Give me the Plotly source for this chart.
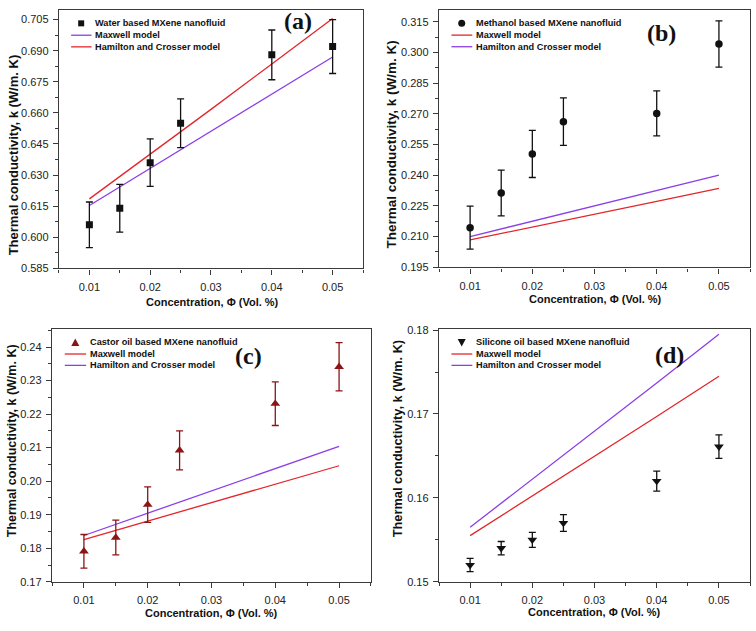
import plotly.graph_objects as go
from plotly.subplots import make_subplots

# ---------------- data ----------------
conc = [0.01, 0.015, 0.02, 0.025, 0.04, 0.05]
model_conc = [0.01, 0.02, 0.03, 0.04, 0.05]

water_k = [0.606, 0.614, 0.636, 0.655, 0.688, 0.692]
water_err = [0.011, 0.0115, 0.0115, 0.0118, 0.012, 0.013]
water_maxwell = [0.6153, 0.6332, 0.6510, 0.6690, 0.6870]
water_hc = [0.6185, 0.6400, 0.6617, 0.6836, 0.7055]

methanol_k = [0.2144, 0.2313, 0.2504, 0.2662, 0.2702, 0.3041]
methanol_err = [0.0105, 0.0112, 0.0115, 0.0116, 0.0110, 0.0113]
methanol_maxwell = [0.2084, 0.2146, 0.2209, 0.2272, 0.2336]
methanol_hc = [0.2100, 0.2175, 0.2250, 0.2325, 0.2401]

castor_k = [0.1791, 0.1832, 0.1930, 0.2092, 0.2231, 0.2341]
castor_err = [0.0050, 0.0052, 0.0053, 0.0058, 0.0065, 0.0072]
castor_maxwell = [0.1826, 0.1881, 0.1936, 0.1991, 0.2046]
castor_hc = [0.1838, 0.1905, 0.1971, 0.2037, 0.2104]

silicone_k = [0.1520, 0.1540, 0.1550, 0.1570, 0.1620, 0.1661]
silicone_err = [0.0008, 0.0008, 0.0009, 0.0010, 0.0012, 0.0014]
silicone_maxwell = [0.1555, 0.1602, 0.1649, 0.1697, 0.1745]
silicone_hc = [0.1565, 0.1622, 0.1679, 0.1737, 0.1795]

x_ticks = [0.01, 0.02, 0.03, 0.04, 0.05]
y_ticks_a = [0.585, 0.600, 0.615, 0.630, 0.645, 0.660, 0.675, 0.690, 0.705]
y_ticks_b = [0.195, 0.210, 0.225, 0.240, 0.255, 0.270, 0.285, 0.300, 0.315]
y_ticks_c = [0.17, 0.18, 0.19, 0.20, 0.21, 0.22, 0.23, 0.24]
y_ticks_d = [0.15, 0.16, 0.17, 0.18]

RED = "#E3262B"
PURPLE = "#8B3FE6"
BLACK = "#111111"
DARKRED = "#8B1414"
FRAME = "#3a3a3a"

SANS = "Liberation Sans, Arial, sans-serif"
SERIF = "Liberation Serif, Times New Roman, serif"

panels = [
    dict(k=water_k, err=water_err, maxwell=water_maxwell, hc=water_hc,
         maxwell_color=PURPLE, hc_color=RED,
         symbol="square", msize=7, mcolor=BLACK, ecolor=BLACK,
         name="Water based MXene nanofluid", label="(a)",
         yrange=[0.585, 0.7097], yticks=y_ticks_a, yfmt=".3f", ydminor=0.0075,
         xdom=[0.0780, 0.4802], ydom=[0.5753, 0.9921],
         lab_xy=(298, 16), xt_xy=(212, 302), yt_xy=(13, 153), yt_size=13,
         legend_marker="square"),
    dict(k=methanol_k, err=methanol_err, maxwell=methanol_maxwell, hc=methanol_hc,
         maxwell_color=RED, hc_color=PURPLE,
         symbol="circle", msize=7.5, mcolor=BLACK, ecolor=BLACK,
         name="Methanol based MXene nanofluid", label="(b)",
         yrange=[0.195, 0.3208], yticks=y_ticks_b, yfmt=".3f", ydminor=0.0075,
         xdom=[0.5807, 0.9921], ydom=[0.5769, 0.9921],
         lab_xy=(661, 28), xt_xy=(595, 299), yt_xy=(392, 142), yt_size=13.5,
         legend_marker="circle"),
    dict(k=castor_k, err=castor_err, maxwell=castor_maxwell, hc=castor_hc,
         maxwell_color=RED, hc_color=PURPLE,
         symbol="triangle-up", msize=8.5, mcolor=DARKRED, ecolor=DARKRED,
         name="Castor oil based MXene nanofluid", label="(c)",
         yrange=[0.17, 0.2453], yticks=y_ticks_c, yfmt=".2f", ydminor=0.005,
         xdom=[0.0688, 0.4907], ydom=[0.0697, 0.4770],
         lab_xy=(248, 357), xt_xy=(211, 619), yt_xy=(12, 444), yt_size=12.5,
         legend_marker="triangle-up"),
    dict(k=silicone_k, err=silicone_err, maxwell=silicone_maxwell, hc=silicone_hc,
         maxwell_color=RED, hc_color=PURPLE,
         symbol="triangle-down", msize=8.5, mcolor=BLACK, ecolor=BLACK,
         name="Silicone oil based MXene nanofluid", label="(d)",
         yrange=[0.15, 0.1801], yticks=y_ticks_d, yfmt=".2f", ydminor=0.005,
         xdom=[0.5807, 0.9921], ydom=[0.0697, 0.4770],
         lab_xy=(669, 356), xt_xy=(594, 618), yt_xy=(397, 442), yt_size=12.8,
         legend_marker="triangle-down"),
]

W, H = 756, 631

fig = make_subplots(rows=2, cols=2)
positions = [(1, 1), (1, 2), (2, 1), (2, 2)]

annotations = []
shapes = []

for i, (p, (r, c)) in enumerate(zip(panels, positions)):
    idx = "" if i == 0 else str(i + 1)
    xref, yref = "x" + idx, "y" + idx

    fig.add_trace(go.Scatter(x=model_conc, y=p["maxwell"], mode="lines",
                             line=dict(color=p["maxwell_color"], width=1.3),
                             name="Maxwell model", showlegend=False), row=r, col=c)
    fig.add_trace(go.Scatter(x=model_conc, y=p["hc"], mode="lines",
                             line=dict(color=p["hc_color"], width=1.3),
                             name="Hamilton and Crosser model", showlegend=False), row=r, col=c)
    fig.add_trace(go.Scatter(x=conc, y=p["k"], mode="markers",
                             marker=dict(symbol=p["symbol"], size=p["msize"], color=p["mcolor"]),
                             error_y=dict(type="data", array=p["err"], visible=True,
                                          color=p["ecolor"], thickness=1.3, width=3.5),
                             name=p["name"], showlegend=False), row=r, col=c)

    fig.update_xaxes(row=r, col=c, domain=p["xdom"], range=[0.005, 0.055],
                     tickvals=x_ticks, tickformat=".2f",
                     ticks="outside", ticklen=5, tickwidth=1.2, tickcolor=FRAME,
                     ticklabelstandoff=3,
                     minor=dict(ticks="outside", ticklen=3, dtick=0.005, tick0=0.005,
                                tickcolor=FRAME, tickwidth=1.1, showgrid=False),
                     showline=True, linecolor=FRAME, linewidth=1.4, mirror=True,
                     showgrid=False, zeroline=False,
                     tickfont=dict(family=SANS, size=11, color="#222"))
    fig.update_yaxes(row=r, col=c, domain=p["ydom"], range=p["yrange"],
                     tickvals=p["yticks"], tickformat=p["yfmt"],
                     ticks="outside", ticklen=5, tickwidth=1.2, tickcolor=FRAME,
                     ticklabelstandoff=2,
                     minor=dict(ticks="outside", ticklen=3, dtick=p["ydminor"],
                                tick0=p["yrange"][0], tickcolor=FRAME, tickwidth=1.1,
                                showgrid=False),
                     showline=True, linecolor=FRAME, linewidth=1.4, mirror=True,
                     showgrid=False, zeroline=False,
                     tickfont=dict(family=SANS, size=11, color="#222"))

    # panel label
    annotations.append(dict(text=p["label"], xref="paper", yref="paper",
                            x=p["lab_xy"][0] / W, y=1 - p["lab_xy"][1] / H,
                            xanchor="center", yanchor="middle", showarrow=False,
                            font=dict(family=SERIF, size=24, color="#111", weight="bold")))
    # axis titles
    annotations.append(dict(text="Concentration, Φ (Vol. %)", xref="paper", yref="paper",
                            x=p["xt_xy"][0] / W, y=1 - p["xt_xy"][1] / H,
                            xanchor="center", yanchor="middle", showarrow=False,
                            font=dict(family=SANS, size=11, color="#111", weight="bold")))
    annotations.append(dict(text="Thermal conductivity, k (W/m. K)", xref="paper", yref="paper",
                            x=p["yt_xy"][0] / W, y=1 - p["yt_xy"][1] / H, textangle=-90,
                            xanchor="center", yanchor="middle", showarrow=False,
                            font=dict(family=SANS, size=p["yt_size"], color="#111",
                                      weight="bold")))

    # legend (drawn inside the plot area, top-left)
    xd, yd = xref + " domain", yref + " domain"
    rows_y = [0.948, 0.902, 0.857]
    texts = [p["name"], "Maxwell model", "Hamilton and Crosser model"]
    colors = [p["maxwell_color"], p["hc_color"]]
    for ty, tx in zip(rows_y, texts):
        annotations.append(dict(text=tx, xref=xd, yref=yd, x=0.112, y=ty,
                                xanchor="left", yanchor="middle", showarrow=False,
                                font=dict(family=SANS, size=9.2, color="#111", weight="bold")))
    for ty, col in zip(rows_y[1:], colors):
        shapes.append(dict(type="line", xref=xd, yref=yd, x0=0.04, x1=0.107, y0=ty, y1=ty,
                           line=dict(color=col, width=1.3)))
    m = p["legend_marker"]
    base = dict(xref=xd, yref=yd, xsizemode="pixel", ysizemode="pixel",
                xanchor=0.073, yanchor=rows_y[0], fillcolor=p["mcolor"],
                line=dict(width=0))
    if m == "square":
        shapes.append(dict(type="rect", x0=-3, x1=3, y0=-3, y1=3, **base))
    elif m == "circle":
        shapes.append(dict(type="circle", x0=-3.5, x1=3.5, y0=-3.5, y1=3.5, **base))
    elif m == "triangle-up":
        shapes.append(dict(type="path", path="M-4,-3.5 L4,-3.5 L0,4 Z", **base))
    else:
        shapes.append(dict(type="path", path="M-4,3.5 L4,3.5 L0,-4 Z", **base))

fig.update_layout(width=W, height=H, margin=dict(l=0, r=0, t=0, b=0),
                  paper_bgcolor="white", plot_bgcolor="white",
                  showlegend=False, annotations=annotations, shapes=shapes)

fig.write_html("out.html",
               config={"displayModeBar": False},
               post_script="document.body.style.margin='0px';"
                           "document.body.style.padding='0px';"
                           "document.body.style.overflow='hidden';")
